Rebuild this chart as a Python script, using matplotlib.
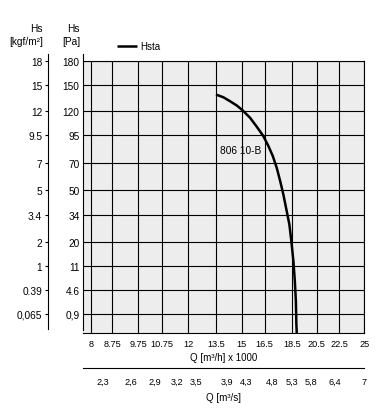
import numpy as np
import matplotlib
matplotlib.use('Agg')
import matplotlib.pyplot as plt

plt.rcParams['font.family'] = ['Liberation Sans', 'DejaVu Sans']

# ---------------- data ----------------
q_ticks  = [8, 8.75, 9.75, 10.75, 12, 13.5, 15, 16.5, 18.5, 20.5, 22.5, 25]
q_labels = ['8', '8.75', '9.75', '10.75', '12', '13.5', '15', '16.5', '18.5', '20.5', '22.5', '25']

pa_ticks  = [0.9, 4.6, 11, 20, 34, 50, 70, 95, 120, 150, 180]
pa_labels = ['0,9', '4.6', '11', '20', '34', '50', '70', '95', '120', '150', '180']
kgf_labels = ['0,065', '0.39', '1', '2', '3.4', '5', '7', '9.5', '12', '15', '18']

# m3/s labels and where they sit on the m3/h scale
qs_pos    = [8.4, 9.45, 10.45, 11.45, 12.4, 14.1, 15.25, 17.0, 18.5, 20.0, 22.1, 25.0]
qs_labels = ['2,3', '2,6', '2,9', '3,2', '3,5', '3,9', '4,3', '4,8', '5,3', '5,8', '6,4', '7']

# curve 806 10-B (Q in m3/h x 1000, Hs in Pa)
q_curve = [13.48, 13.90, 14.29, 14.70, 15.05, 15.54, 15.98, 16.42, 16.77, 17.08, 17.36,
           17.63, 17.85, 18.10, 18.30, 18.45, 18.61, 18.72, 18.80, 18.84, 18.87]
h_curve = [138.3, 135.2, 130.7, 125.9, 120.8, 112.6, 103.4, 94.3, 85.0, 76.1, 66.4,
           55.4, 46.5, 36.0, 28.6, 20.5, 12.5, 6.5, 2.5, 0.18, 0.0]

# ---------------- figure ----------------
W, H = 392, 414
fig = plt.figure(figsize=(W / 100, H / 100), dpi=100)
ax = fig.add_axes([83 / W, 1 - 334 / H, 281.3 / W, 272 / H])
ax.set_facecolor('#ecedec')

fwd = lambda y: np.sqrt(np.maximum(y, 0))
inv = lambda y: np.asarray(y) ** 2
ax.set_xscale('log')
ax.set_yscale('function', functions=(fwd, inv))
ax.set_xlim(7.747, 25)
ax.set_ylim(0, 180)

ax.plot(q_curve, h_curve, color='black', lw=1.8, label='Hsta', solid_capstyle='butt',
        solid_joinstyle='round', zorder=3)
ax.text(13.70, 81.4, '806 10-B', fontsize=7.3, va='center', ha='left', zorder=4)

ax.set_xticks(q_ticks)
ax.set_xticklabels(q_labels)
ax.xaxis.set_minor_locator(matplotlib.ticker.NullLocator())
ax.set_yticks(pa_ticks)
ax.set_yticklabels(pa_labels)
ax.yaxis.set_minor_locator(matplotlib.ticker.NullLocator())
ax.grid(True, which='major', color='black', lw=0.8)
ax.set_axisbelow(True)
ax.tick_params(axis='x', length=0, pad=4.5, labelsize=6.6)
ax.tick_params(axis='y', length=0, pad=2.5, labelsize=7.3)
for s in ax.spines.values():
    s.set_linewidth(0.8)
ax.spines['left'].set_bounds(0.02, 190)
ax.set_xlabel('Q [m³/h] x 1000', fontsize=7, labelpad=2.5)

# kgf/m2 axis on the far left
kax = ax.twinx()
kax.set_yscale('function', functions=(fwd, inv))
kax.set_ylim(0, 180)
kax.set_yticks(pa_ticks)
kax.set_yticklabels(kgf_labels)
kax.yaxis.set_minor_locator(matplotlib.ticker.NullLocator())
kax.yaxis.set_ticks_position('left')
kax.yaxis.set_label_position('left')
for k in ['top', 'right', 'bottom']:
    kax.spines[k].set_visible(False)
kax.spines['left'].set_position(('axes', -0.1244))
kax.spines['left'].set_linewidth(0.8)
kax.spines['left'].set_bounds(0.03, 190)
kax.tick_params(axis='y', length=2.2, width=0.8, pad=2, labelsize=7.3, direction='out')

# m3/s axis underneath
sax = ax.secondary_xaxis(-0.1287)
sax.set_xticks(qs_pos)
sax.set_xticklabels(qs_labels)
sax.xaxis.set_minor_locator(matplotlib.ticker.NullLocator())
sax.tick_params(axis='x', length=0, pad=6.5, labelsize=6.6)
sax.spines['bottom'].set_linewidth(0.8)
sax.set_xlabel('Q [m³/s]', fontsize=7, labelpad=4)

# headers
fig.text(43 / W, 1 - 29 / H, 'Hs', ha='right', va='center', fontsize=7.3)
fig.text(43 / W, 1 - 42 / H, '[kgf/m²]', ha='right', va='center', fontsize=7.3)
fig.text(80 / W, 1 - 29 / H, 'Hs', ha='right', va='center', fontsize=7.3)
fig.text(80 / W, 1 - 42 / H, '[Pa]', ha='right', va='center', fontsize=7.3)

fig.legend(loc='center left', bbox_to_anchor=(117 / W, 1 - 47.5 / H), frameon=False,
           fontsize=7, handlelength=2.1, handletextpad=0.3, borderpad=0, borderaxespad=0)

fig.savefig('out.png', dpi=100)
